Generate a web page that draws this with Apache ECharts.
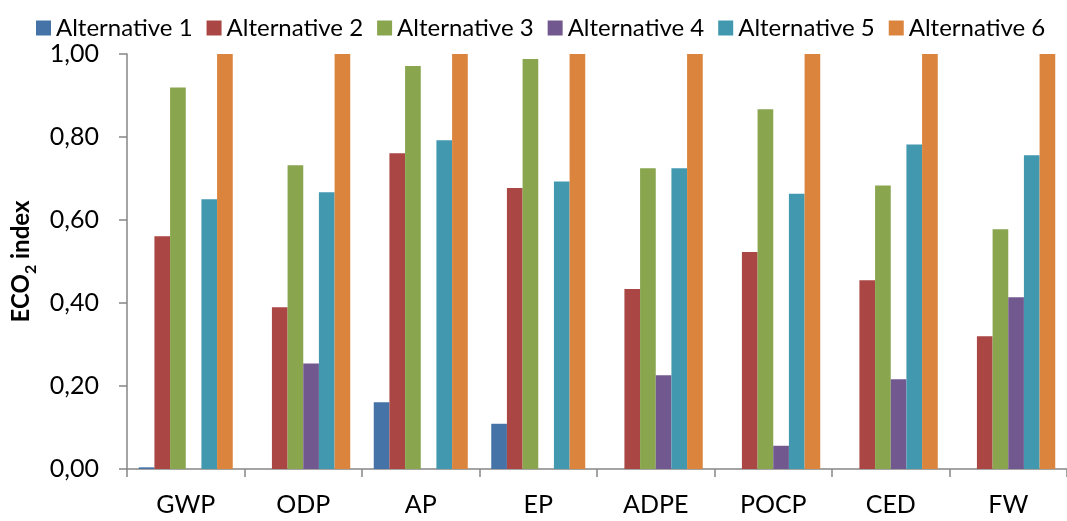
<!DOCTYPE html>
<html>
<head>
<meta charset="utf-8">
<script src="https://cdn.jsdelivr.net/npm/echarts@6/dist/echarts.min.js"></script>
<style>
html,body{margin:0;padding:0;background:#fff;}
#chart{width:1067px;height:521px;}
</style>
</head>
<body>
<div id="chart"></div>
<script>
const categories = ['GWP', 'ODP', 'AP', 'EP', 'ADPE', 'POCP', 'CED', 'FW'];
const seriesNames = ['Alternative 1', 'Alternative 2', 'Alternative 3', 'Alternative 4', 'Alternative 5', 'Alternative 6'];
const alt1 = [0.004, 0, 0.161, 0.109, 0, 0, 0, 0];
const alt2 = [0.561, 0.390, 0.761, 0.677, 0.434, 0.523, 0.455, 0.320];
const alt3 = [0.919, 0.732, 0.971, 0.988, 0.725, 0.867, 0.683, 0.578];
const alt4 = [0, 0.254, 0, 0, 0.226, 0.056, 0.216, 0.414];
const alt5 = [0.650, 0.667, 0.792, 0.693, 0.725, 0.663, 0.782, 0.756];
const alt6 = [1, 1, 1, 1, 1, 1, 1, 1];
const yTicks = [0, 0.2, 0.4, 0.6, 0.8, 1.0];
const colors = ['#4572A7', '#AA4643', '#89A54E', '#71588F', '#4198AF', '#DB843D'];

const allData = [alt1, alt2, alt3, alt4, alt5, alt6];
const FONT = 'Lato, "Open Sans", sans-serif';

const chart = echarts.init(document.getElementById('chart'), null, {renderer: 'canvas'});
chart.setOption({
  animation: false,
  backgroundColor: '#ffffff',
  color: colors,
  textStyle: {fontFamily: FONT},
  legend: {
    data: seriesNames,
    left: 31,
    width: 1036,
    top: 11,
    icon: 'rect',
    itemWidth: 15,
    itemHeight: 15,
    itemGap: 14,
    textStyle: {fontFamily: FONT, fontSize: 24, color: '#000'}
  },
  grid: {left: 127, right: -6, top: 54, bottom: 52, containLabel: false},
  xAxis: {
    type: 'category',
    data: categories,
    axisLine: {lineStyle: {color: '#868686', width: 1.5}},
    axisTick: {show: true, length: 8, lineStyle: {color: '#868686', width: 1.5}},
    axisLabel: {fontFamily: FONT, fontSize: 25, color: '#000', margin: 23}
  },
  yAxis: {
    type: 'value',
    min: yTicks[0],
    max: yTicks[yTicks.length - 1],
    interval: 0.2,
    splitLine: {show: false},
    axisLine: {show: true, lineStyle: {color: '#868686', width: 1.5}},
    axisTick: {show: true, length: 8, lineStyle: {color: '#868686', width: 1.5}},
    axisLabel: {
      fontFamily: FONT, fontSize: 25, color: '#000', margin: 28,
      formatter: v => v.toFixed(2).replace('.', ',')
    },
    name: '{a|ECO}{s|2}{a| index}',
    nameLocation: 'middle',
    nameGap: 86,
    nameRotate: 90,
    nameTextStyle: {
      rich: {
        a: {fontFamily: FONT, fontSize: 24, fontWeight: 'bold', color: '#000', lineHeight: 30, verticalAlign: 'top'},
        s: {fontFamily: FONT, fontSize: 16, fontWeight: 'bold', color: '#000', lineHeight: 16, verticalAlign: 'bottom'}
      }
    }
  },
  series: seriesNames.map((n, i) => ({
    name: n,
    type: 'bar',
    data: allData[i],
    barGap: '0%',
    barCategoryGap: '20%',
    itemStyle: {color: colors[i]}
  }))
});
</script>
</body>
</html>
